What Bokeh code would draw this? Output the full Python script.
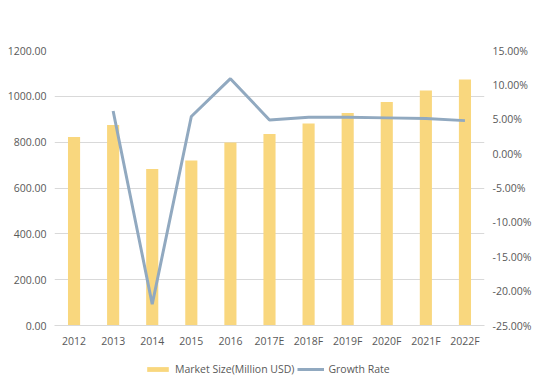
from bokeh.plotting import figure
from bokeh.layouts import column
from bokeh.models import (Range1d, LinearAxis, FixedTicker, NumeralTickFormatter,
                          Legend, LegendItem, FactorRange)
from bokeh.embed import file_html
from bokeh.resources import INLINE

years = ["2012", "2013", "2014", "2015", "2016", "2017E", "2018F", "2019F", "2020F", "2021F", "2022F"]
market_size = [823, 875, 683, 720, 799, 836, 881, 927, 975, 1025, 1074]
growth_years = years[1:]
growth_rate = [0.062, -0.219, 0.054, 0.109, 0.049, 0.053, 0.053, 0.052, 0.051, 0.048]

FONT = "Open Sans"
TXT = "#595959"
GRID = "#D9D9D9"
BAR = "#F9D77E"
LINE = "#91A9C0"

W = 534
p = figure(width=W, height=350, x_range=FactorRange(*years), y_range=Range1d(0, 1200),
           output_backend="svg", toolbar_location=None,
           min_border_left=54, min_border_right=W - 487, min_border_top=50, min_border_bottom=24)
p.outline_line_color = None
p.extra_y_ranges = {"pct": Range1d(-0.25, 0.15)}

bars = p.vbar(x=years, top=market_size, width=0.31, fill_color=BAR, line_color=None)
line = p.line(x=growth_years, y=growth_rate, y_range_name="pct", line_color=LINE, line_width=3)

p.yaxis.ticker = FixedTicker(ticks=[0, 200, 400, 600, 800, 1000, 1200])
p.yaxis.formatter = NumeralTickFormatter(format="0.00")
right = LinearAxis(y_range_name="pct", ticker=FixedTicker(ticks=[-0.25, -0.2, -0.15, -0.1, -0.05, 0, 0.05, 0.1, 0.15]),
                   formatter=NumeralTickFormatter(format="0.00%"))
p.add_layout(right, "right")

for ax in [p.yaxis[0], right, p.xaxis[0]]:
    ax.axis_line_color = None
    ax.major_tick_line_color = None
    ax.minor_tick_line_color = None
    ax.major_tick_out = 0
    ax.major_tick_in = 0
    ax.major_label_text_font = FONT
    ax.major_label_text_font_size = "10.5px"
    ax.major_label_text_color = TXT
p.yaxis[0].major_label_standoff = 8
right.major_label_standoff = 8
p.xaxis[0].major_label_standoff = 8
p.xaxis[0].axis_line_color = GRID

p.xgrid.grid_line_color = None
p.ygrid.grid_line_color = GRID
p.ygrid.ticker = FixedTicker(ticks=[200, 400, 600, 800, 1000, 1200])

# legend strip (dummy zero-size renderers only provide legend swatches)
lg = figure(width=W, height=26, x_range=Range1d(0, 1), y_range=Range1d(0, 1),
            x_axis_type=None, y_axis_type=None,
            output_backend="svg", toolbar_location=None,
            min_border_left=0, min_border_right=0, min_border_top=0, min_border_bottom=0)
lg.outline_line_color = None
lg.grid.visible = False
lbar = lg.vbar(x=[-5], top=[0], bottom=[0], width=0.3, fill_color=BAR, line_color=None)
lline = lg.line(x=[-5, -5], y=[0, 0], line_color=LINE, line_width=3)
legend = Legend(items=[LegendItem(label="Market Size(Million USD)", renderers=[lbar]),
                       LegendItem(label="Growth Rate", renderers=[lline])],
                orientation="horizontal", location=(90, 0),
                glyph_width=27, glyph_height=6, label_standoff=4, spacing=3,
                label_text_font=FONT, label_text_font_size="10.5px", label_text_color=TXT,
                border_line_color=None, background_fill_alpha=0, padding=2, margin=0)
lg.add_layout(legend)

open("out.html", "w").write(file_html(column(p, lg, spacing=0), INLINE))
